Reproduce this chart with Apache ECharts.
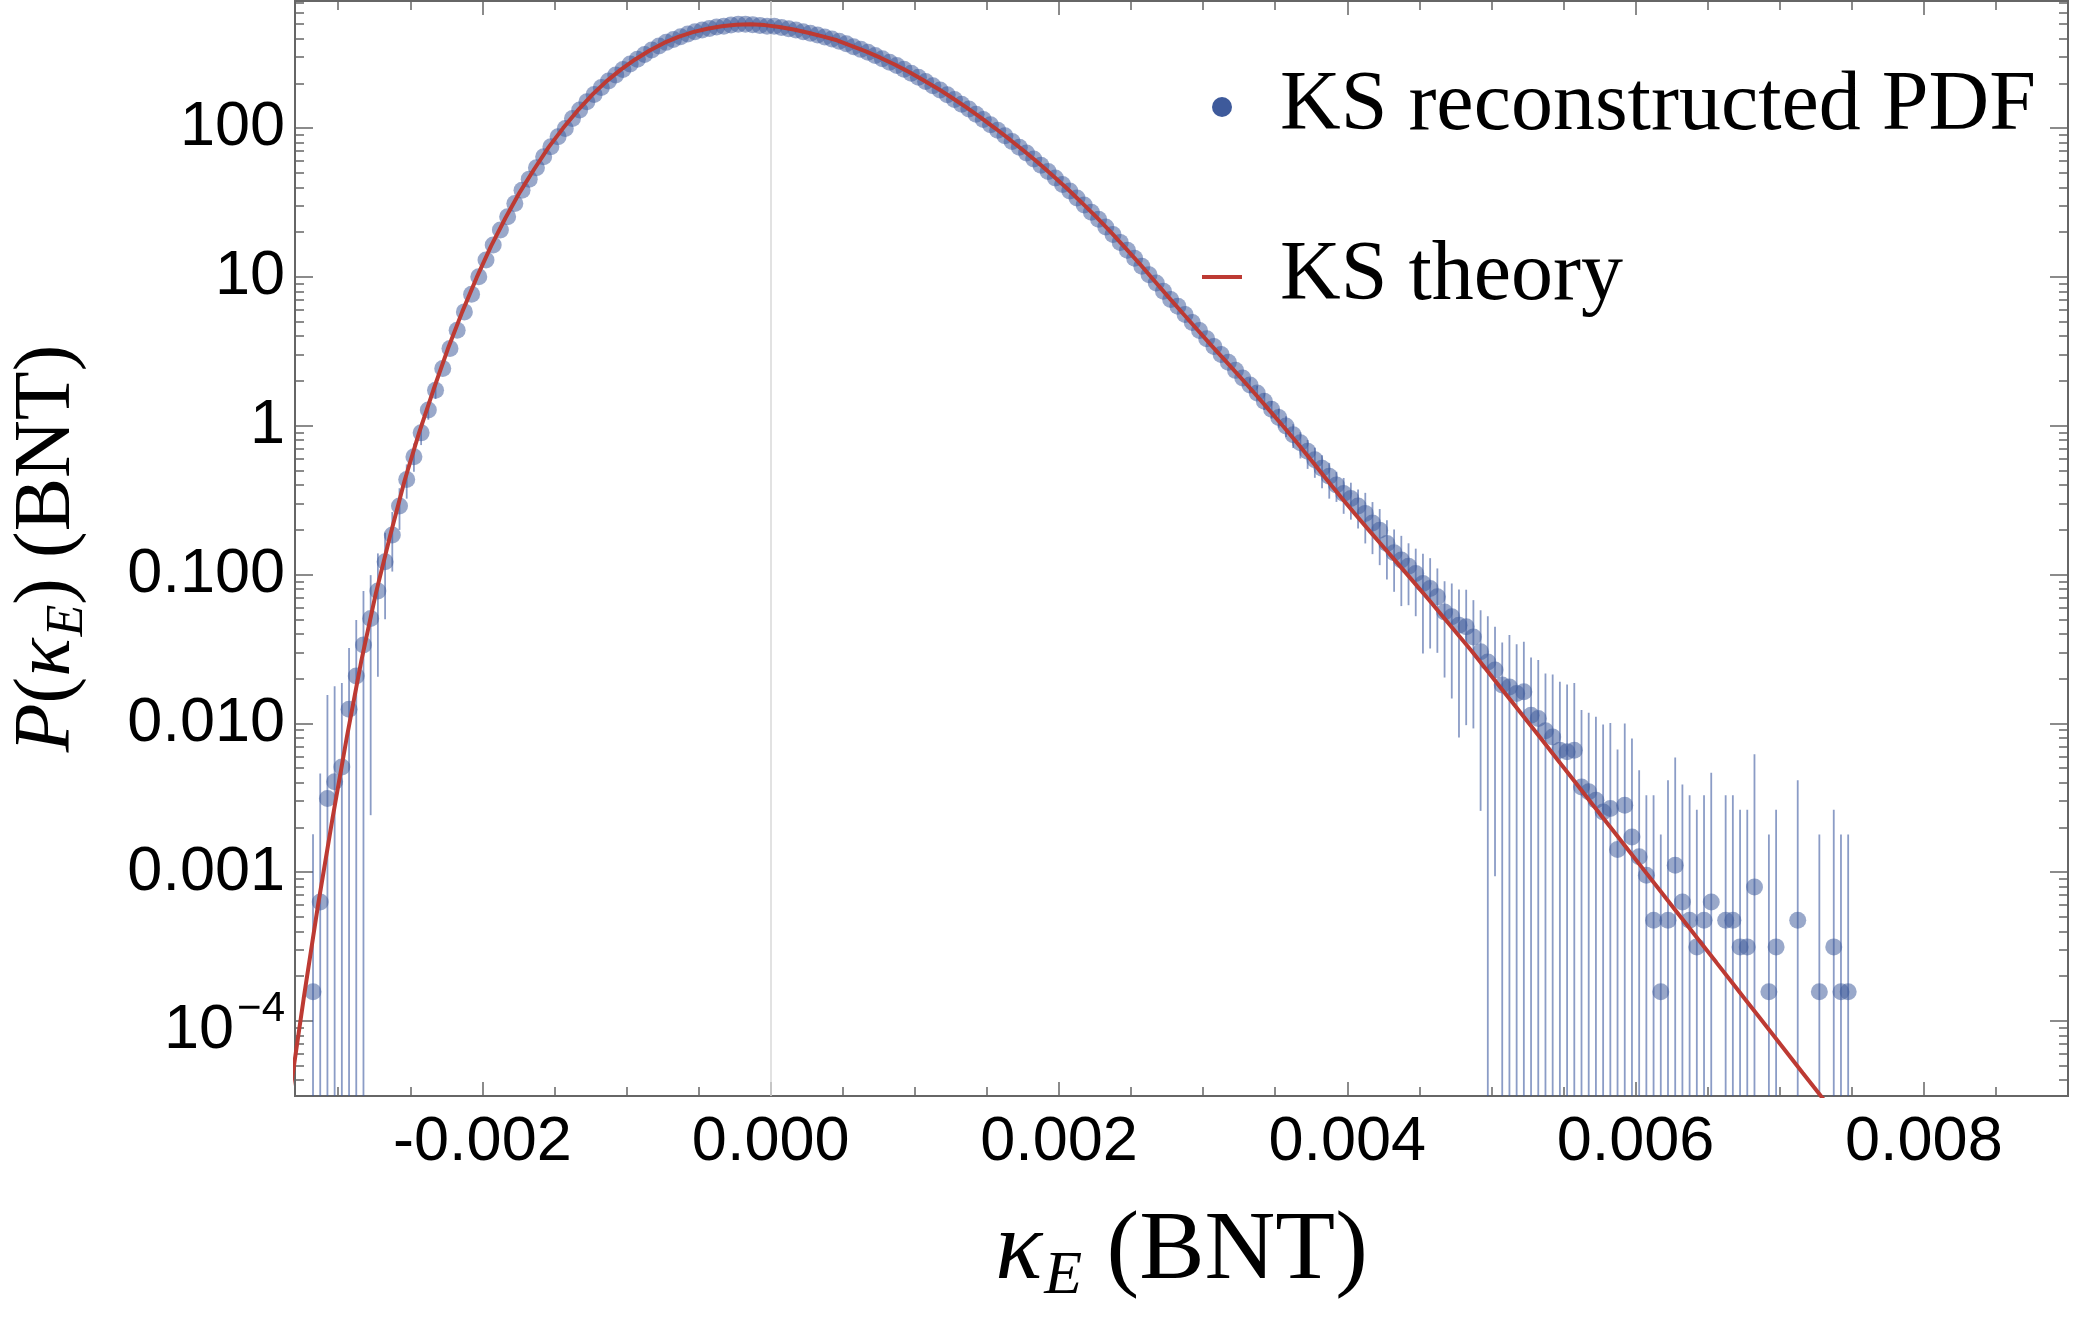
<!DOCTYPE html>
<html>
<head>
<meta charset="utf-8">
<style>
  html, body { margin: 0; padding: 0; background: #fff; }
  #chart { width: 2076px; height: 1326px; }
</style>
<script src="https://cdn.jsdelivr.net/npm/echarts@6/dist/echarts.min.js"></script>
</head>
<body>
<div id="chart"></div>
<script>
// kappa_E bin centres, in units of 1e-3 BNT
const binX = [
  -3.175,-3.125,-3.075,-3.025,-2.975,-2.925,-2.875,-2.825,-2.775,-2.725,-2.675,-2.625,-2.575,-2.525,-2.475,-2.425,-2.375,-2.325,-2.275,-2.225,
  -2.175,-2.125,-2.075,-2.025,-1.975,-1.925,-1.875,-1.825,-1.775,-1.725,-1.675,-1.625,-1.575,-1.525,-1.475,-1.425,-1.375,-1.325,-1.275,-1.225,
  -1.175,-1.125,-1.075,-1.025,-0.975,-0.925,-0.875,-0.825,-0.775,-0.725,-0.675,-0.625,-0.575,-0.525,-0.475,-0.425,-0.375,-0.325,-0.275,-0.225,
  -0.175,-0.125,-0.075,-0.025,0.025,0.075,0.125,0.175,0.225,0.275,0.325,0.375,0.425,0.475,0.525,0.575,0.625,0.675,0.725,0.775,
  0.825,0.875,0.925,0.975,1.025,1.075,1.125,1.175,1.225,1.275,1.325,1.375,1.425,1.475,1.525,1.575,1.625,1.675,1.725,1.775,
  1.825,1.875,1.925,1.975,2.025,2.075,2.125,2.175,2.225,2.275,2.325,2.375,2.425,2.475,2.525,2.575,2.625,2.675,2.725,2.775,
  2.825,2.875,2.925,2.975,3.025,3.075,3.125,3.175,3.225,3.275,3.325,3.375,3.425,3.475,3.525,3.575,3.625,3.675,3.725,3.775,
  3.825,3.875,3.925,3.975,4.025,4.075,4.125,4.175,4.225,4.275,4.325,4.375,4.425,4.475,4.525,4.575,4.625,4.675,4.725,4.775,
  4.825,4.875,4.925,4.975,5.025,5.075,5.125,5.175,5.225,5.275,5.325,5.375,5.425,5.475,5.525,5.575,5.625,5.675,5.725,5.775,
  5.825,5.875,5.925,5.975,6.025,6.075,6.125,6.175,6.225,6.275,6.325,6.375,6.425,6.475,6.525,6.575,6.625,6.675,6.725,6.775,
  6.825,6.875,6.925,6.975,7.025,7.075,7.125,7.175,7.225,7.275,7.325,7.375,7.425,7.475
];

// log10 of the reconstructed PDF in each bin (null = empty bin)
const pdfLog = [
  -3.804,-3.200,-2.505,-2.393,-2.293,-1.905,-1.681,-1.474,-1.295,-1.111,-0.914,-0.735,-0.540,-0.361,-0.209,-0.048,0.105,0.239,0.385,0.519,
  0.642,0.765,0.884,1.001,1.113,1.214,1.315,1.404,1.494,1.583,1.657,1.733,1.807,1.874,1.942,1.998,2.065,2.121,2.177,2.226,
  2.273,2.316,2.356,2.394,2.430,2.462,2.495,2.524,2.551,2.576,2.596,2.614,2.632,2.647,2.659,2.670,2.679,2.685,2.692,2.697,
  2.697,2.694,2.690,2.685,2.684,2.676,2.668,2.659,2.648,2.637,2.625,2.612,2.599,2.584,2.566,2.547,2.529,2.510,2.488,2.466,
  2.443,2.420,2.395,2.369,2.341,2.313,2.285,2.256,2.224,2.192,2.160,2.128,2.093,2.058,2.022,1.986,1.948,1.910,1.871,1.832,
  1.792,1.751,1.708,1.665,1.621,1.577,1.530,1.483,1.435,1.387,1.336,1.285,1.232,1.179,1.125,1.071,1.015,0.959,0.903,0.848,
  0.803,0.748,0.693,0.640,0.585,0.533,0.478,0.427,0.372,0.320,0.273,0.220,0.165,0.110,0.055,-0.002,-0.060,-0.115,-0.172,-0.228,
  -0.285,-0.340,-0.399,-0.455,-0.489,-0.540,-0.589,-0.653,-0.702,-0.791,-0.854,-0.903,-0.944,-0.993,-1.060,-1.094,-1.150,-1.251,-1.284,-1.340,
  -1.351,-1.419,-1.519,-1.587,-1.642,-1.743,-1.755,-1.799,-1.788,-1.945,-1.967,-2.050,-2.091,-2.180,-2.191,-2.180,-2.427,-2.460,-2.516,-2.595,
  -2.572,-2.848,-2.550,-2.763,-2.897,-3.020,-3.323,-3.804,-3.323,-2.953,-3.200,-3.323,-3.502,-3.323,-3.200,null,-3.323,-3.323,-3.502,-3.502,
  -3.099,null,-3.804,-3.502,null,null,-3.323,null,null,-3.804,null,-3.502,-3.804,-3.804
];

// visible error bars: bin index, lower / upper end in log10 (null lower = runs off the bottom)
const errBin = [
  0,1,2,3,4,5,6,7,8,9,10,11,12,13,14,15,16,17,
  130,131,132,133,134,135,136,137,138,139,140,141,142,143,144,145,146,147,148,149,
  150,151,152,153,154,155,156,157,158,159,160,161,162,163,164,165,166,167,168,169,
  170,171,172,173,174,175,176,177,178,179,180,181,182,183,184,185,186,187,188,189,
  190,191,192,193,194,196,197,198,199,200,202,203,206,209,211,212,213
];
const errLo = [
  null,null,null,null,null,null,null,null,-2.617,-1.687,-1.300,-0.980,-0.700,-0.490,-0.310,-0.130,0.040,0.180,
  0.222,0.172,0.106,0.047,-0.013,-0.075,-0.150,-0.220,-0.290,-0.350,-0.420,-0.490,-0.512,-0.592,-0.631,-0.690,-0.791,-0.863,-0.937,-1.033,
  -1.116,-1.212,-1.206,-1.280,-1.530,-1.497,-1.526,-1.692,-1.833,-2.095,-2.012,-2.034,-2.588,null,-3.027,null,null,null,null,null,
  null,null,null,null,null,null,null,null,null,null,null,null,null,null,null,null,null,null,null,null,
  null,null,null,null,null,null,null,null,null,null,null,null,null,null,null,null,null
];
const errHi = [
  -2.745,-2.337,-1.810,-1.750,-1.728,-1.493,-1.306,-1.110,-1.004,-0.858,-0.720,-0.580,-0.420,-0.260,-0.120,0.020,0.163,0.290,
  0.319,0.267,0.219,0.166,0.115,0.063,0.010,-0.044,-0.096,-0.148,-0.199,-0.250,-0.309,-0.351,-0.383,-0.429,-0.451,-0.513,-0.560,-0.636,
  -0.697,-0.740,-0.790,-0.826,-0.860,-0.890,-0.959,-1.045,-1.060,-1.100,-1.102,-1.172,-1.240,-1.280,-1.351,-1.456,-1.407,-1.468,-1.452,-1.558,
  -1.575,-1.665,-1.672,-1.721,-1.739,-1.728,-1.911,-1.929,-1.956,-2.008,-1.997,-2.175,-2.001,-2.101,-2.315,-2.483,-2.483,-2.747,-2.382,-2.229,
  -2.410,-2.483,-2.580,-2.483,-2.332,-2.483,-2.483,-2.580,-2.580,-2.207,-2.747,-2.580,-2.382,-2.747,-2.580,-2.747,-2.747
];

// KS theory curve, x in 1e-3 BNT, log10 P
const theoryX = [
  -3.34,-3.24,-3.14,-3.04,-2.94,-2.84,-2.74,-2.64,-2.54,-2.44,
  -2.34,-2.24,-2.14,-2.04,-1.94,-1.84,-1.74,-1.64,-1.54,-1.44,
  -1.34,-1.24,-1.14,-1.04,-0.94,-0.84,-0.74,-0.64,-0.54,-0.44,
  -0.34,-0.24,-0.14,-0.04,0.06,0.16,0.26,0.36,0.46,0.56,
  0.66,0.76,0.86,0.96,1.06,1.16,1.26,1.36,1.46,1.56,
  1.66,1.76,1.86,1.96,2.06,2.16,2.26,2.36,2.46,2.56,
  2.66,2.76,2.86,2.96,3.06,3.16,3.26,3.36,3.46,3.56,
  3.66,3.76,3.86,3.96,4.06,4.16,4.26,4.36,4.46,4.56,
  4.66,4.76,4.86,4.96,5.06,5.16,5.26,5.36,5.46,5.56,
  5.66,5.76,5.86,5.96,6.06,6.16,6.26,6.36,6.46,6.56,
  6.66,6.76,6.86,6.96,7.06,7.16,7.26,7.36
];
const theoryLog = [
  -4.52,-3.85,-3.22,-2.64,-2.09,-1.58,-1.13,-0.74,-0.37,-0.05,
  0.24,0.515,0.765,0.995,1.207,1.396,1.570,1.725,1.872,2.000,
  2.117,2.222,2.314,2.393,2.461,2.521,2.572,2.613,2.645,2.668,
  2.684,2.694,2.697,2.692,2.679,2.662,2.641,2.616,2.590,2.553,
  2.516,2.473,2.427,2.377,2.321,2.265,2.202,2.138,2.069,1.997,
  1.922,1.844,1.764,1.678,1.591,1.497,1.402,1.301,1.195,1.088,
  0.976,0.864,0.754,0.645,0.537,0.431,0.324,0.215,0.103,-0.009,
  -0.124,-0.243,-0.365,-0.484,-0.600,-0.713,-0.825,-0.937,-1.049,-1.163,
  -1.278,-1.395,-1.511,-1.633,-1.756,-1.876,-1.999,-2.122,-2.246,-2.369,
  -2.493,-2.617,-2.740,-2.864,-2.988,-3.112,-3.235,-3.359,-3.483,-3.606,
  -3.730,-3.854,-3.977,-4.101,-4.225,-4.349,-4.472,-4.596
];

// ticks
const xMajor = [-2, 0, 2, 4, 6, 8];
const xMajorLabels = ['-0.002', '0.000', '0.002', '0.004', '0.006', '0.008'];
const xMinor = [-3, -2.5, -1.5, -1, -0.5, 0.5, 1, 1.5, 2.5, 3, 3.5, 4.5, 5, 5.5, 6.5, 7, 7.5, 8.5];
const yMajor = [-4, -3, -2, -1, 0, 1, 2];
const yMajorLabels = ['10^−4', '0.001', '0.010', '0.100', '1', '10', '100'];

const X_MIN = -3.3, X_MAX = 9;
const Y_MIN = -4.504, Y_MAX = 2.854;

const yMinor = [];
for (let n = -5; n <= 2; n++) {
  for (let m = 2; m <= 9; m++) {
    const v = n + Math.log10(m);
    if (v > Y_MIN && v < Y_MAX) yMinor.push(v);
  }
}

const sans = "'Liberation Sans', Arial, sans-serif";
const serif = "'Liberation Serif', 'Times New Roman', serif";
const tickLine = { color: '#666', width: 1.5 };

function axisDef(kind, position, ticks, len) {
  return {
    type: 'value', position: position, gridIndex: 0,
    min: kind === 'x' ? X_MIN : Y_MIN,
    max: kind === 'x' ? X_MAX : Y_MAX,
    axisLine: { show: false, onZero: false },
    splitLine: { show: false },
    axisTick: { show: true, inside: true, length: len, customValues: ticks, lineStyle: tickLine },
    axisLabel: { show: false }
  };
}

const xMain = axisDef('x', 'bottom', xMajor, 14);
xMain.axisLabel = {
  show: true, customValues: xMajor, margin: 15,
  fontFamily: sans, fontSize: 63, color: '#000',
  formatter: function (v) { return xMajorLabels[xMajor.indexOf(v)]; }
};
xMain.name = '{k|κ}{e|E}{n| (BNT)}';
xMain.nameLocation = 'middle';
xMain.nameGap = 100;
xMain.nameTextStyle = {
  fontFamily: serif, fontSize: 98, color: '#000',
  rich: {
    k: { fontFamily: serif, fontStyle: 'italic', fontSize: 98, color: '#000', verticalAlign: 'middle' },
    e: { fontFamily: serif, fontStyle: 'italic', fontSize: 62, color: '#000', verticalAlign: 'middle', padding: [50, 0, 0, 2] },
    n: { fontFamily: serif, fontSize: 98, color: '#000', verticalAlign: 'middle' }
  }
};

const yMain = axisDef('y', 'left', yMajor, 18);
yMain.axisLabel = {
  show: true, customValues: yMajor, margin: 10,
  fontFamily: sans, fontSize: 63, color: '#000',
  formatter: function (v) {
    const s = yMajorLabels[yMajor.indexOf(v)];
    if (s.indexOf('^') >= 0) {
      const p = s.split('^');
      return '{b|' + p[0] + '}{s|' + p[1] + '}';
    }
    return s;
  },
  rich: {
    b: { fontFamily: sans, fontSize: 63, color: '#000', verticalAlign: 'middle', padding: [20, 0, 0, 0] },
    s: { fontFamily: sans, fontSize: 42, color: '#000', verticalAlign: 'middle', padding: [0, 0, 24, 3] }
  }
};
yMain.name = '{i|P}{n|(}{i|κ}{e|E}{n|)} {n|(BNT)}';
yMain.nameLocation = 'middle';
yMain.nameRotate = 90;
yMain.nameGap = 201;
yMain.nameTextStyle = {
  fontFamily: serif, fontSize: 80, color: '#000',
  rich: {
    i: { fontFamily: serif, fontStyle: 'italic', fontSize: 80, color: '#000', verticalAlign: 'middle' },
    e: { fontFamily: serif, fontStyle: 'italic', fontSize: 52, color: '#000', verticalAlign: 'middle', padding: [40, 0, 0, 2] },
    n: { fontFamily: serif, fontSize: 80, color: '#000', verticalAlign: 'middle' }
  }
};

const scatterData = [];
binX.forEach(function (x, i) {
  if (pdfLog[i] !== null) scatterData.push([x, pdfLog[i]]);
});
const errData = errBin.map(function (b, i) {
  return [binX[b], errLo[i] === null ? Y_MIN : errLo[i], errHi[i]];
});
const theoryData = theoryX.map(function (x, i) { return [x, theoryLog[i]]; });

const chart = echarts.init(document.getElementById('chart'), null, { renderer: 'canvas' });
chart.setOption({
  animation: false,
  backgroundColor: '#fff',
  grid: { left: 295, right: 8, top: 1, bottom: 230, show: true, borderColor: '#666', borderWidth: 2 },
  xAxis: [
    xMain,
    axisDef('x', 'bottom', xMinor, 9),
    axisDef('x', 'top', xMajor, 14),
    axisDef('x', 'top', xMinor, 9)
  ],
  yAxis: [
    yMain,
    axisDef('y', 'left', yMinor, 9),
    axisDef('y', 'right', yMajor, 18),
    axisDef('y', 'right', yMinor, 9)
  ],
  legend: {
    orient: 'vertical', left: 1202, top: 43, padding: 0,
    itemWidth: 40, itemHeight: 20, itemGap: 42,
    selectedMode: false, symbolKeepAspect: true,
    textStyle: { fontFamily: serif, fontSize: 84, color: '#000', lineHeight: 100, padding: [0, 0, 28, 33] },
    data: [
      { name: 'KS reconstructed PDF', icon: 'circle', itemStyle: { color: '#3e5a9b', opacity: 1 } },
      { name: 'KS theory', icon: 'path://M0,0L40,0L40,4L0,4Z', itemStyle: { color: '#bd3a33', opacity: 1 } }
    ]
  },
  series: [
    {
      name: 'error bars', type: 'custom', xAxisIndex: 0, yAxisIndex: 0, z: 1,
      clip: true,
      data: errData,
      encode: { x: 0, y: [1, 2] },
      renderItem: function (params, api) {
        const p1 = api.coord([api.value(0), api.value(1)]);
        const p2 = api.coord([api.value(0), api.value(2)]);
        return {
          type: 'line',
          shape: { x1: p1[0], y1: p1[1], x2: p2[0], y2: p2[1] },
          style: { stroke: 'rgba(62,90,160,0.6)', lineWidth: 1.8 }
        };
      }
    },
    {
      name: 'KS reconstructed PDF', type: 'scatter', xAxisIndex: 0, yAxisIndex: 0, z: 2,
      data: scatterData,
      symbol: 'circle', symbolSize: 17,
      itemStyle: { color: '#3e5a9b', opacity: 0.53 },
      markLine: {
        silent: true, symbol: 'none', z: 1,
        label: { show: false },
        lineStyle: { color: '#d9d9d9', width: 1.5, type: 'solid' },
        data: [{ xAxis: 0 }]
      }
    },
    {
      name: 'KS theory', type: 'line', xAxisIndex: 0, yAxisIndex: 0, z: 3,
      data: theoryData,
      showSymbol: false, symbol: 'none', clip: true,
      lineStyle: { color: '#bd3a33', width: 4 },
      itemStyle: { color: '#bd3a33' }
    }
  ]
});
</script>
</body>
</html>
